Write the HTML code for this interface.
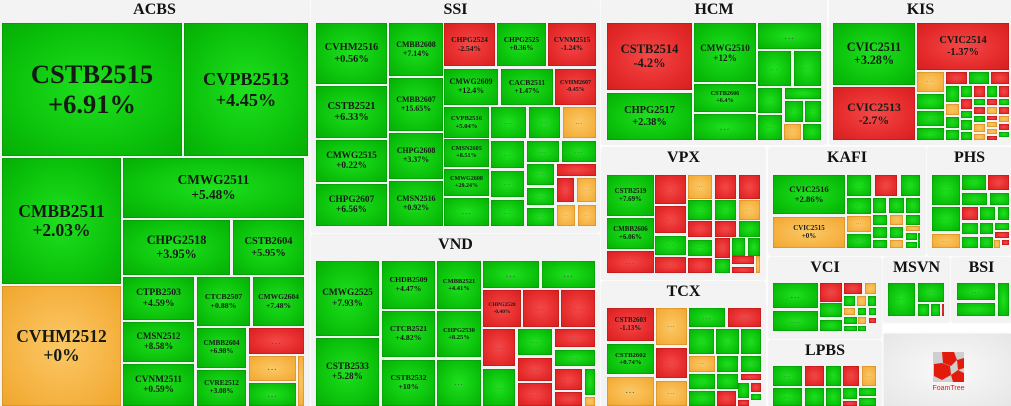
<!DOCTYPE html>
<html><head><meta charset="utf-8">
<style>
html,body{margin:0;padding:0;background:#fff;}
#root{position:relative;width:1011px;height:406px;overflow:hidden;font-family:"Liberation Serif",serif;}
.panel{position:absolute;background:#f3f3f3;box-shadow:0 0 2px rgba(0,0,0,0.15);}
.ptitle{position:absolute;left:0;right:0;top:1px;text-align:center;font-weight:bold;font-size:16px;color:#111;}
.tile{position:absolute;box-sizing:border-box;display:flex;align-items:center;justify-content:center;text-align:center;font-weight:bold;line-height:1.1;color:#151a15;overflow:hidden;}
.g{background:radial-gradient(ellipse at center,#1fe01f 0%,#0cc40c 60%,#05ad05 100%);box-shadow:inset 0 0 0 1px rgba(0,90,0,0.2);}
.r{background:radial-gradient(ellipse at center,#f44848 0%,#e62c2c 60%,#d41f1f 100%);box-shadow:inset 0 0 0 1px rgba(120,0,0,0.2);}
.o{background:radial-gradient(ellipse at center,#fbc866 0%,#f6b444 60%,#efa52c 100%);box-shadow:inset 0 0 0 1px rgba(140,80,0,0.2);}
.dots{color:#555;font-weight:normal;letter-spacing:1px;}
</style></head>
<body>
<div id="root"></div>
<script>
const groupNames = ["ACBS","SSI","VND","HCM","KIS","VPX","TCX","KAFI","PHS","VCI","MSVN","BSI","LPBS"];
const groupBoxes = [
 [0,0,309,406],[312,0,599,232],[312,235,599,406],[602,0,826,144],[830,0,1011,144],
 [602,148,765,279],[602,282,765,406],[769,148,925,255],[928,148,1011,255],
 [769,258,881,338],[884,258,949,322],[952,258,1011,322],[769,341,881,406]
];
const tiles = [
 [2,23,182,156,"g","CSTB2515","+6.91%"],[184,23,308,156,"g","CVPB2513","+4.45%"],
 [2,158,121,284,"g","CMBB2511","+2.03%"],[2,286,121,406,"o","CVHM2512","+0%"],
 [123,158,304,218,"g","CMWG2511","+5.48%"],[123,220,230,275,"g","CHPG2518","+3.95%"],
 [233,220,304,275,"g","CSTB2604","+5.95%"],[123,277,194,320,"g","CTPB2503","+4.59%"],
 [197,277,250,326,"g","CTCB2507","+0.88%"],[253,277,304,326,"g","CMWG2604","+7.48%"],
 [123,322,194,362,"g","CMSN2512","+8.58%"],[197,328,246,368,"g","CMBB2604","+6.98%"],
 [249,328,304,354,"r","",""],[123,364,194,406,"g","CVNM2511","+0.59%"],
 [197,370,246,406,"g","CVRE2512","+3.08%"],[249,356,296,381,"o","",""],
 [298,356,304,406,"o","",""],[249,383,296,406,"g","",""],
 [316,23,387,84,"g","CVHM2516","+0.56%"],[316,86,387,138,"g","CSTB2521","+6.33%"],
 [316,140,387,182,"g","CMWG2515","+0.22%"],[316,184,387,226,"g","CHPG2607","+6.56%"],
 [389,23,443,76,"g","CMBB2608","+7.14%"],[389,78,443,131,"g","CMBB2607","+15.65%"],
 [389,133,443,179,"g","CHPG2608","+3.37%"],[389,181,443,226,"g","CMSN2516","+0.92%"],
 [444,23,495,66,"r","CHPG2524","-2.54%"],[497,23,546,66,"g","CHPG2525","+0.36%"],
 [548,23,596,66,"r","CVNM2515","-1.24%"],[444,69,498,105,"g","CMWG2609","+12.4%"],
 [501,69,553,105,"g","CACB2511","+1.47%"],[555,69,596,105,"r","CVHM2607","-0.45%"],
 [444,107,489,138,"g","CVPB2516","+5.04%"],[491,107,526,138,"g","",""],[529,107,560,138,"g","",""],[563,107,596,138,"o","",""],
 [444,139,489,167,"g","CMSN2605","+8.51%"],[491,141,524,168,"g","",""],[527,141,559,162,"g","",""],[562,141,596,162,"g","",""],
 [444,169,489,196,"g","CMWG2608","+20.24%"],[491,171,524,197,"g","",""],[527,164,554,185,"g","",""],[557,164,596,176,"r","",""],
 [557,178,574,202,"r","",""],[577,178,596,202,"o","",""],[527,188,554,205,"g","",""],
 [444,198,489,226,"g","",""],[491,200,524,226,"g","",""],[527,208,554,226,"g","",""],[557,205,575,226,"o","",""],[578,205,596,226,"o","",""],
 [316,261,379,336,"g","CMWG2525","+7.93%"],[316,338,379,406,"g","CSTB2533","+5.28%"],
 [382,261,435,309,"g","CHDB2509","+4.47%"],[382,311,435,357,"g","CTCB2521","+4.82%"],
 [382,360,435,406,"g","CSTB2532","+10%"],[437,261,481,309,"g","CMBB2521","+4.41%"],
 [437,311,481,357,"g","CHPG2530","+8.25%"],[437,360,481,406,"g","",""],
 [483,261,539,288,"g","",""],[542,261,595,288,"g","",""],
 [483,290,521,327,"r","CHPG2528","-0.40%"],[523,290,559,327,"r","",""],[561,290,595,327,"r","",""],
 [483,329,515,366,"r","",""],[518,329,552,355,"g","",""],[555,329,595,347,"r","",""],[555,350,595,366,"g","",""],
 [483,369,515,406,"g","",""],[518,358,552,381,"r","",""],[518,383,552,406,"r","",""],
 [555,369,582,390,"r","",""],[585,369,595,395,"g","",""],[555,392,582,406,"r","",""],[585,397,595,406,"o","",""],
 [607,23,692,90,"r","CSTB2514","-4.2%"],[607,93,692,140,"g","CHPG2517","+2.38%"],
 [694,23,756,82,"g","CMWG2510","+12%"],[694,84,756,112,"g","CSTB2606","+6.4%"],
 [694,114,756,140,"g","",""],[758,23,821,49,"g","",""],[758,51,791,86,"g","",""],[794,51,821,86,"g","",""],
 [758,88,782,113,"g","",""],[785,88,821,99,"g","",""],[785,101,803,122,"g","",""],[805,101,821,122,"g","",""],
 [758,115,782,140,"g","",""],[784,124,801,140,"o","",""],[803,124,821,140,"g","",""],
 [833,23,915,85,"g","CVIC2511","+3.28%"],[833,87,915,140,"r","CVIC2513","-2.7%"],
 [917,23,1009,70,"r","CVIC2514","-1.37%"],[917,72,944,92,"o","",""],
 [917,94,944,109,"g","",""],[917,111,944,126,"g","",""],[917,128,944,140,"g","",""],
 [946,72,967,84,"r","",""],[969,72,989,84,"g","",""],[991,72,1009,84,"r","",""],
 [946,86,959,102,"g","",""],[961,86,972,97,"g","",""],[974,86,985,97,"r","",""],[987,86,997,97,"g","",""],[999,86,1009,97,"r","",""],
 [946,104,959,115,"o","",""],[961,99,972,109,"r","",""],[974,99,985,105,"g","",""],[987,99,997,105,"r","",""],[999,99,1009,105,"g","",""],
 [946,117,959,128,"g","",""],[961,111,972,118,"g","",""],[974,107,985,114,"r","",""],[987,107,997,114,"o","",""],[999,107,1009,114,"r","",""],
 [946,130,959,140,"g","",""],[961,120,972,130,"g","",""],[974,116,985,122,"g","",""],[987,116,997,120,"r","",""],[999,116,1009,122,"o","",""],
 [961,132,972,140,"g","",""],[974,124,985,132,"o","",""],[987,122,997,127,"o","",""],[999,124,1009,130,"r","",""],
 [974,134,985,140,"o","",""],[987,129,997,134,"o","",""],[999,132,1009,137,"g","",""],[987,136,997,140,"r","",""],
 [607,175,654,216,"g","CSTB2519","+7.69%"],[607,218,654,249,"g","CMBB2606","+6.06%"],[607,251,654,273,"r","",""],
 [655,175,686,204,"r","",""],[655,206,686,233,"r","",""],[655,236,686,255,"g","",""],[655,257,686,273,"r","",""],
 [688,175,712,199,"o","",""],[715,175,736,199,"r","",""],[739,175,760,199,"r","",""],
 [688,200,712,220,"g","",""],[715,200,736,220,"g","",""],[739,200,760,220,"o","",""],
 [688,221,712,237,"r","",""],[715,221,736,237,"r","",""],[739,221,760,237,"g","",""],
 [688,240,712,256,"g","",""],[715,238,730,258,"r","",""],[732,238,745,256,"g","",""],[748,238,760,256,"g","",""],
 [688,258,712,273,"r","",""],[715,259,730,273,"g","",""],[732,256,754,264,"r","",""],[732,267,754,273,"r","",""],[756,256,760,273,"o","",""],
 [607,308,654,341,"r","CSTB2603","-1.13%"],[607,344,654,374,"g","CSTB2602","+0.74%"],[607,377,654,406,"o","",""],
 [656,308,687,345,"o","",""],[656,348,687,378,"r","",""],[656,381,687,406,"o","",""],
 [689,308,725,327,"g","",""],[728,308,761,327,"r","",""],
 [689,329,714,354,"g","",""],[716,329,739,354,"g","",""],[741,329,761,354,"g","",""],
 [689,356,715,372,"o","",""],[717,356,738,372,"g","",""],[741,356,761,372,"g","",""],
 [689,374,715,389,"g","",""],[717,374,738,389,"g","",""],[741,374,761,380,"r","",""],
 [689,391,715,406,"g","",""],[717,391,736,406,"r","",""],[738,383,749,398,"g","",""],[751,383,761,392,"r","",""],[751,394,761,400,"g","",""],[738,400,749,406,"r","",""],
 [773,175,845,214,"g","CVIC2516","+2.86%"],[773,217,845,248,"o","CVIC2515","+0%"],
 [847,175,871,196,"g","",""],[875,175,897,196,"r","",""],[901,175,920,196,"g","",""],
 [847,198,871,214,"g","",""],[873,198,886,213,"g","",""],[889,198,904,213,"g","",""],[906,198,920,213,"g","",""],
 [847,216,871,232,"o","",""],[873,215,887,225,"g","",""],[890,215,903,225,"o","",""],[906,215,920,225,"g","",""],
 [847,234,871,248,"g","",""],[873,227,887,238,"g","",""],[890,227,903,238,"g","",""],[906,226,920,231,"o","",""],
 [873,240,887,248,"g","",""],[890,240,903,248,"o","",""],[906,233,917,240,"g","",""],[906,242,917,248,"g","",""],[918,233,920,248,"g","",""],
 [932,175,960,205,"g","",""],[932,207,960,231,"g","",""],[932,234,960,248,"o","",""],
 [962,175,986,190,"g","",""],[988,175,1009,190,"r","",""],
 [962,193,987,205,"g","",""],[990,193,1009,205,"g","",""],
 [962,207,978,220,"r","",""],[980,207,995,220,"g","",""],[998,207,1009,220,"g","",""],
 [962,223,978,234,"g","",""],[980,223,993,234,"g","",""],[995,223,1009,230,"g","",""],[995,232,1009,238,"r","",""],
 [962,237,978,248,"g","",""],[980,237,993,248,"g","",""],[994,240,1000,248,"o","",""],[1002,240,1009,245,"r","",""],
 [773,283,818,308,"g","",""],[773,311,818,331,"g","",""],
 [820,283,842,302,"r","",""],[844,283,862,294,"r","",""],[865,283,876,294,"o","",""],
 [844,296,855,306,"g","",""],[857,296,866,306,"o","",""],[868,296,876,306,"g","",""],
 [820,303,842,317,"g","",""],[844,308,855,315,"o","",""],[858,308,866,315,"g","",""],[869,308,876,315,"g","",""],
 [820,320,842,331,"g","",""],[844,317,857,324,"g","",""],[858,317,866,324,"o","",""],[869,318,876,323,"r","",""],
 [844,326,857,331,"g","",""],[858,326,866,331,"g","",""],
 [888,283,915,316,"g","",""],[918,283,944,302,"g","",""],[918,304,929,316,"g","",""],[931,304,940,316,"g","",""],[942,304,944,316,"r","",""],
 [957,283,995,300,"g","",""],[957,303,995,316,"g","",""],[998,283,1009,316,"g","",""],
 [773,366,802,386,"g","",""],[773,388,802,406,"g","",""],
 [805,366,824,386,"r","",""],[826,366,841,386,"g","",""],[843,366,859,386,"r","",""],[862,366,876,386,"o","",""],
 [805,388,824,406,"g","",""],[826,388,841,406,"g","",""],[843,388,857,399,"g","",""],[859,388,876,396,"g","",""],[859,398,876,406,"g","",""],[843,401,857,406,"r","",""]
];

const root = document.getElementById('root');
groupNames.forEach((name, i) => {
  const b = groupBoxes[i];
  const p = document.createElement('div');
  p.className = 'panel';
  p.style.left = b[0] + 'px'; p.style.top = b[1] + 'px';
  p.style.width = (b[2] - b[0]) + 'px'; p.style.height = (b[3] - b[1]) + 'px';
  
  
  const t = document.createElement('div');
  t.className = 'ptitle';
  t.textContent = name;
  
  
  p.appendChild(t);
  root.appendChild(p);
});
tiles.forEach(tl => {
  const [x1, y1, x2, y2, c, nm, ch] = tl;
  const w = x2 - x1, h = y2 - y1;
  const d = document.createElement('div');
  d.className = 'tile ' + c;
  d.style.left = x1 + 'px'; d.style.top = y1 + 'px';
  d.style.width = w + 'px'; d.style.height = h + 'px';
  
  
  if (nm) {
    const fs = Math.max(5, Math.min(w / 6.8, h / 4.5, 28));
    d.style.fontSize = fs.toFixed(1) + 'px';
    d.innerHTML = nm + '<br>' + ch;
  } else if (w > 12 && h > 7) {
    const fs = Math.max(4, Math.min(w / 5, h / 2.5, 10));
    d.style.fontSize = fs.toFixed(1) + 'px';
    const s = document.createElement('span');
    s.className = 'dots';
    s.textContent = '...';
    d.appendChild(s);
  }
  root.appendChild(d);
});
const lp = document.createElement('div');
lp.className = 'panel';
lp.style.cssText = 'left:884px;top:334px;width:127px;height:72px;background:radial-gradient(ellipse at center,#fafafa,#e6e6e6);';


lp.innerHTML = '<svg width="127" height="72" style="position:absolute;left:0;top:0"><rect x="49" y="18" width="31" height="30" fill="#cfcfcf"/><path d="M58 18h12l3 8-6 6-8-3zM73 26l7-2v10l-6 2zM50 30l8 -1 8 3 1 9-9 5-8-4zM67 41l7-5 6 3v9h-11z" fill="#e21b0c"/><text x="64.5" y="56" font-size="7" fill="#e21b0c" text-anchor="middle" font-family="Liberation Sans, sans-serif">FoamTree</text></svg>';
root.appendChild(lp);
</script>
</body></html>
